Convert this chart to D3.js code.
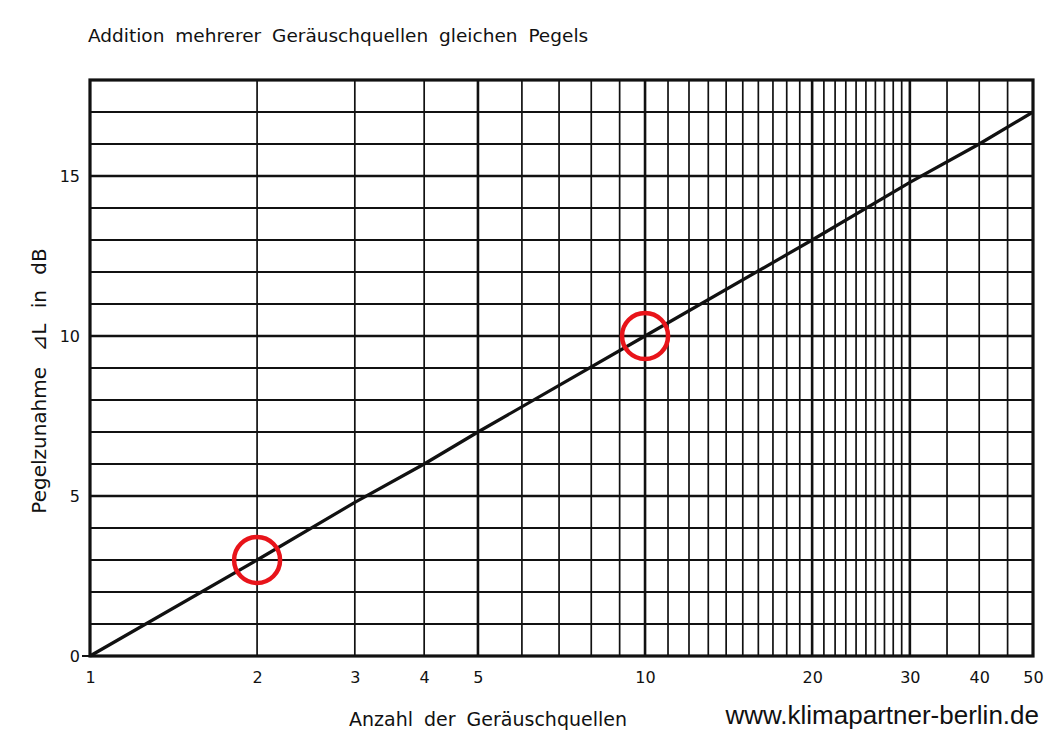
<!DOCTYPE html>
<html>
<head>
<meta charset="utf-8">
<script src="https://cdn.jsdelivr.net/npm/d3@7"></script>
<style>
  body { margin: 0; background: #fff; }
  svg text { font-family: "DejaVu Sans", sans-serif; fill: #111; }
</style>
</head>
<body>
<div id="chart"></div>
<script>
var
  sources = [1, 2, 3, 4, 5, 10, 20, 30, 40, 50],
  levels = [0, 3.0, 4.8, 6.0, 7.0, 10.0, 13.0, 14.8, 16.0, 17.0],
  xTickLabels = [1, 2, 3, 4, 5, 10, 20, 30, 40, 50],
  yTickLabels = [0, 5, 10, 15],
  xGrid = [2, 3, 4, 5, 6, 7, 8, 9, 10, 11, 12, 13, 14, 15, 16, 17, 18, 19, 20,
           21, 22, 23, 24, 25, 26, 27, 28, 29, 30, 35, 40, 45],
  xGridMajor = [5, 10, 20, 30],
  yGrid = [1, 2, 3, 4, 5, 6, 7, 8, 9, 10, 11, 12, 13, 14, 15, 16, 17],
  yGridMajor = [5, 10, 15],
  markedSources = [2, 10],
  markedLevels = [3, 10];

var
  WIDTH = 1046,
  HEIGHT = 739,
  LEFT = 90,
  RIGHT = 1033,
  TOP = 80,
  BOTTOM = 656,
  INK = "#111";

var svg = d3.select("#chart").append("svg")
  .attr("width", WIDTH)
  .attr("height", HEIGHT);

var x = d3.scaleLog().domain([1, 50]).range([LEFT, RIGHT]);
var y = d3.scaleLinear().domain([0, 18]).range([BOTTOM, TOP]);

// grid
svg.append("g").selectAll("line").data(xGrid).join("line")
  .attr("x1", function(d){ return x(d); })
  .attr("x2", function(d){ return x(d); })
  .attr("y1", TOP).attr("y2", BOTTOM)
  .attr("stroke", INK)
  .attr("stroke-width", function(d){ return xGridMajor.indexOf(d) >= 0 ? 2.6 : 1.7; });

svg.append("g").selectAll("line").data(yGrid).join("line")
  .attr("y1", function(d){ return y(d); })
  .attr("y2", function(d){ return y(d); })
  .attr("x1", LEFT).attr("x2", RIGHT)
  .attr("stroke", INK)
  .attr("stroke-width", function(d){ return yGridMajor.indexOf(d) >= 0 ? 2.4 : 1.8; });

// frame
svg.append("rect")
  .attr("x", LEFT).attr("y", TOP)
  .attr("width", RIGHT - LEFT).attr("height", BOTTOM - TOP)
  .attr("fill", "none").attr("stroke", INK).attr("stroke-width", 3.2);

// axes
var xAxis = svg.append("g")
  .attr("transform", "translate(0," + BOTTOM + ")")
  .call(d3.axisBottom(x).tickValues(xTickLabels).tickFormat(d3.format("d")).tickSize(0).tickPadding(16));

var yAxis = svg.append("g")
  .attr("transform", "translate(" + LEFT + ",0)")
  .call(d3.axisLeft(y).tickValues(yTickLabels).tickFormat(d3.format("d")).tickSize(0).tickPadding(10));

[xAxis, yAxis].forEach(function(axis){
  axis.select(".domain").remove();
  axis.selectAll("text")
    .attr("font-size", 16)
    .attr("font-family", "DejaVu Sans, sans-serif")
    .attr("fill", INK);
});

// small dash at the origin
svg.append("line")
  .attr("x1", x(1) - 8).attr("x2", x(1))
  .attr("y1", y(0)).attr("y2", y(0))
  .attr("stroke", INK).attr("stroke-width", 2);

// curve
var line = d3.line()
  .x(function(d, i){ return x(sources[i]); })
  .y(function(d){ return y(d); });

svg.append("path")
  .datum(levels)
  .attr("d", line)
  .attr("fill", "none")
  .attr("stroke", INK)
  .attr("stroke-width", 3.2);

// red highlight circles
svg.append("g").selectAll("circle").data(markedSources).join("circle")
  .attr("cx", function(d){ return x(d); })
  .attr("cy", function(d, i){ return y(markedLevels[i]); })
  .attr("r", 23)
  .attr("fill", "none")
  .attr("stroke", "#e8141a")
  .attr("stroke-width", 4.5);

// titles
svg.append("text")
  .attr("x", 88).attr("y", 42)
  .attr("font-size", 18.5)
  .attr("word-spacing", 5)
  .text("Addition mehrerer Geräuschquellen gleichen Pegels");

svg.append("text")
  .attr("x", 488).attr("y", 726)
  .attr("text-anchor", "middle")
  .attr("font-size", 19)
  .attr("word-spacing", 5)
  .text("Anzahl der Geräuschquellen");

svg.append("text")
  .attr("transform", "translate(46,381) rotate(-90)")
  .attr("text-anchor", "middle")
  .attr("font-size", 20)
  .attr("word-spacing", 9)
  .text("Pegelzunahme ⊿L in dB");

svg.append("text")
  .attr("x", 1039).attr("y", 724)
  .attr("text-anchor", "end")
  .attr("font-size", 26)
  .style("font-family", "Liberation Sans, Arial, sans-serif")
  .attr("fill", "#000")
  .text("www.klimapartner-berlin.de");
</script>
</body>
</html>
